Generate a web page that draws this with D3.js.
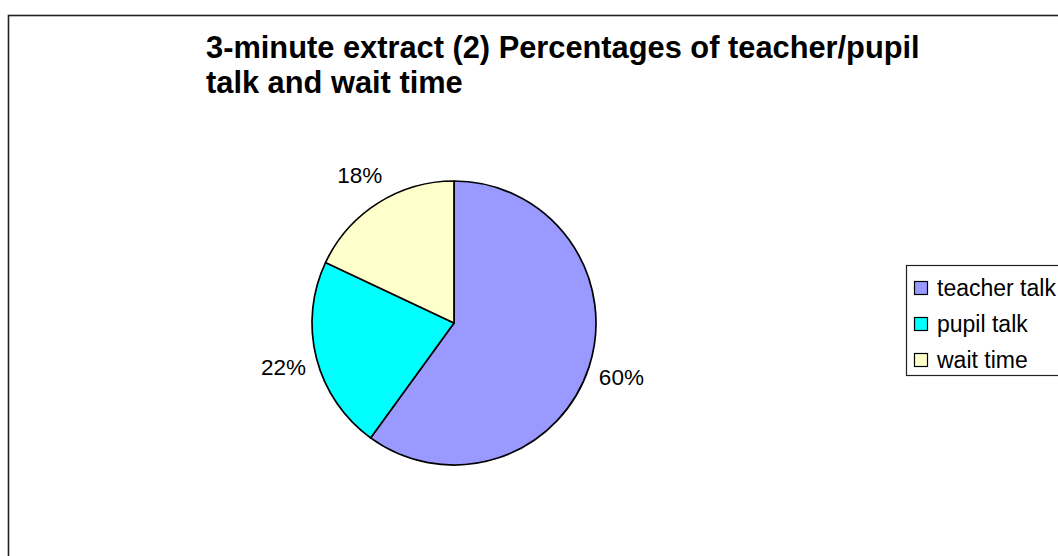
<!DOCTYPE html>
<html>
<head>
<meta charset="utf-8">
<script src="https://cdn.jsdelivr.net/npm/d3@7"></script>
<style>
  body { margin: 0; background: #fff; }
  svg { display: block; font-family: "Liberation Sans", Arial, sans-serif; }
</style>
</head>
<body>
<svg id="chart" width="1058" height="556"></svg>
<script>
// Chart data
var categories = ["teacher talk", "pupil talk", "wait time"];
var values = [60, 22, 18];
var colors = ["#9999ff", "#00ffff", "#ffffcc"];
var titleLines = ["3-minute extract (2) Percentages of teacher/pupil", "talk and wait time"];

// Layout
var cx = 454, cy = 323, radius = 142, labelRadius = 176;

var svg = d3.select("#chart");

// outer chart border (runs off right and bottom)
svg.append("rect")
    .attr("x", 8.5)
    .attr("y", 15.5)
    .attr("width", 1100)
    .attr("height", 600)
    .attr("fill", "#fff")
    .attr("stroke", "#222")
    .attr("stroke-width", 1.6);

// title
svg.append("g")
    .selectAll("text")
    .data(titleLines)
    .enter()
    .append("text")
    .attr("x", 206)
    .attr("y", function (d, i) { return 58 + i * 35; })
    .attr("font-size", "30.8px")
    .attr("font-weight", "bold")
    .attr("fill", "#000")
    .text(function (d) { return d; });

var pie = d3.pie().sort(null).value(function (d) { return d; });
var arcs = pie(values);

var arc = d3.arc().innerRadius(0).outerRadius(radius);
var labelArc = d3.arc().innerRadius(labelRadius).outerRadius(labelRadius);

var g = svg.append("g").attr("transform", "translate(" + cx + "," + cy + ")");

g.selectAll(".slice")
    .data(arcs)
    .enter()
    .append("path")
    .attr("class", "slice")
    .attr("d", arc)
    .attr("fill", function (d, i) { return colors[i]; })
    .attr("stroke", "#000")
    .attr("stroke-width", 1.7)
    .attr("stroke-linejoin", "round");

g.selectAll(".label")
    .data(arcs)
    .enter()
    .append("text")
    .attr("class", "label")
    .attr("transform", function (d) { return "translate(" + labelArc.centroid(d) + ")"; })
    .attr("text-anchor", "middle")
    .attr("dy", "0.36em")
    .attr("font-size", "22.5px")
    .attr("fill", "#000")
    .text(function (d) { return Math.round(d.data) + "%"; });

// legend
var legend = svg.append("g").attr("transform", "translate(906,265)");
legend.append("rect")
    .attr("x", 0.5)
    .attr("y", 0.5)
    .attr("width", 200)
    .attr("height", 110)
    .attr("fill", "#fff")
    .attr("stroke", "#222")
    .attr("stroke-width", 1.2);

var item = legend.selectAll(".item")
    .data(categories)
    .enter()
    .append("g")
    .attr("class", "item")
    .attr("transform", function (d, i) { return "translate(0," + (23 + i * 36) + ")"; });

item.append("rect")
    .attr("x", 8.5)
    .attr("y", -6.5)
    .attr("width", 13)
    .attr("height", 13)
    .attr("fill", function (d, i) { return colors[i]; })
    .attr("stroke", "#000")
    .attr("stroke-width", 1.2);

item.append("text")
    .attr("x", 31)
    .attr("dy", "0.36em")
    .attr("font-size", "23px")
    .attr("fill", "#000")
    .text(function (d) { return d; });
</script>
</body>
</html>
